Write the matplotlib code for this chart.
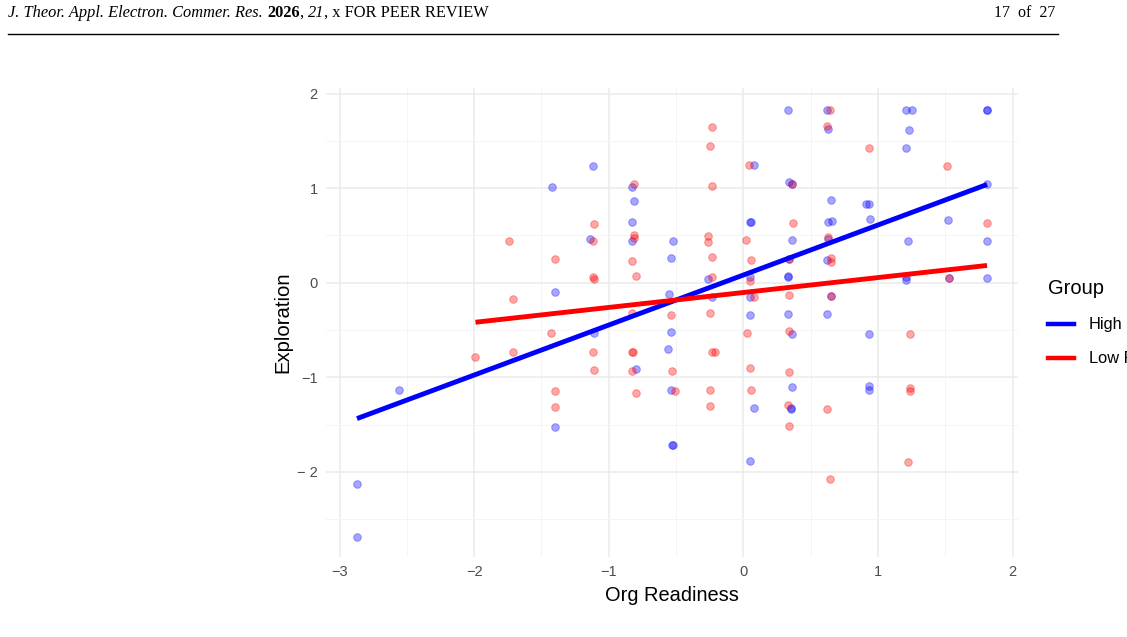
import numpy as np
import matplotlib
matplotlib.use("Agg")
import matplotlib.pyplot as plt
from matplotlib.lines import Line2D

# ---- data ----
high_x = [-2.87, -2.87, -2.56, -1.42, -1.40, -1.40, -1.12, -1.14, -1.11,
          -0.83, -0.81, -0.83, -0.83, -0.80, -0.52, -0.54, -0.55, -0.54,
          -0.56, -0.54, -0.53, -0.52, -0.26, -0.23, 0.08, 0.05, 0.06, 0.05,
          0.05, 0.05, 0.08, 0.05, 0.33, 0.62, 0.63, 1.21, 1.25, 1.23, 1.21,
          1.81, 1.81, 0.34, 0.36, 1.81, 0.65, 0.91, 0.93, 0.63, 0.66, 0.94,
          1.52, 0.36, 0.63, 1.22, 1.81, 0.34, 0.62, 0.33, 0.33, 1.21, 1.21,
          1.53, 1.81, 0.65, 0.33, 0.62, 0.36, 0.93, 0.36, 0.93, 0.93, 0.35,
          0.35]
high_y = [-2.13, -2.69, -1.13, 1.01, -0.10, -1.53, 1.23, 0.46, -0.53,
          1.01, 0.86, 0.64, 0.44, -0.91, 0.44, 0.26, -0.12, -0.52,
          -0.70, -1.13, -1.72, -1.72, 0.04, -0.15, 1.25, 0.64, 0.64, 0.06,
          -0.15, -0.34, -1.32, -1.88, 1.83, 1.83, 1.63, 1.83, 1.83, 1.62, 1.42,
          1.83, 1.83, 1.07, 1.04, 1.04, 0.87, 0.83, 0.83, 0.64, 0.65, 0.67,
          0.66, 0.45, 0.46, 0.44, 0.44, 0.25, 0.24, 0.07, 0.06, 0.06, 0.03,
          0.05, 0.05, -0.14, -0.33, -0.33, -0.54, -0.54, -1.10, -1.09, -1.13, -1.32,
          -1.33]

low_x = [-1.99, -1.74, -1.71, -1.71, -1.40, -1.43, -1.40, -1.40, -1.11,
         -1.12, -1.12, -1.11, -1.12, -1.11, -0.81, -0.81, -0.81, -0.83,
         -0.80, -0.83, -0.83, -0.82, -0.83, -0.80, -0.54, -0.53, -0.51,
         -0.23, -0.25, -0.23, -0.26, -0.26, -0.23, -0.23, -0.25, -0.23,
         -0.21, -0.25, -0.25, 0.04, 0.02, 0.06, 0.05, 0.08, 0.03, 0.05, 0.06,
         0.64, 0.62, 0.93, 1.51, 0.36, 0.37, 1.81, 0.63, 0.34, 0.65, 0.65,
         1.53, 0.34, 0.65, 0.34, 1.24, 0.34, 1.24, 1.24, 0.33, 0.62, 0.34,
         1.22, 0.64]
low_y = [-0.78, 0.44, -0.17, -0.73, 0.25, -0.53, -1.14, -1.31, 0.62,
         0.44, 0.06, 0.04, -0.73, -0.92, 1.04, 0.50, 0.47, 0.23,
         0.07, -0.32, -0.73, -0.73, -0.93, -1.17, -0.34, -0.93, -1.14,
         1.65, 1.45, 1.02, 0.49, 0.43, 0.27, 0.06, -0.32, -0.73,
         -0.73, -1.13, -1.30, 1.25, 0.45, 0.24, 0.02, -0.15, -0.53, -0.90, -1.13,
         1.83, 1.66, 1.42, 1.23, 1.04, 0.63, 0.63, 0.48, 0.25, 0.26, 0.22,
         0.05, -0.13, -0.14, -0.51, -0.54, -0.94, -1.11, -1.14, -1.29, -1.33, -1.52,
         -1.90, -2.08]

# fitted lm lines as drawn in the reference (slope, intercept)
high_fit = (0.529, 0.082)
low_fit = (0.158, -0.103)

groups = ["High", "Low F"]
group_colors = {"High": "#0000FF", "Low F": "#FF0000"}
x_ticks = [-3, -2, -1, 0, 1, 2]
x_ticklabels = ["\u22123", "\u22122", "\u22121", "0", "1", "2"]
y_ticks = [-2, -1, 0, 1, 2]
y_ticklabels = ["\u2212 2", "\u22121", "0", "1", "2"]

fig = plt.figure(figsize=(11.27, 6.37), dpi=100)
ax = fig.add_axes([0.2893, 0.1256, 0.614, 0.7363])

series = {"High": (high_x, high_y, high_fit), "Low F": (low_x, low_y, low_fit)}
for g in groups:
    x, y, _ = series[g]
    ax.scatter(x, y, s=30, color=group_colors[g], alpha=0.35,
               edgecolors=group_colors[g], linewidths=0.7, zorder=2)
for g in groups:
    x, _, (slope, icpt) = series[g]
    xs = np.array([min(x), max(x)])
    ax.plot(xs, icpt + slope * xs, color=group_colors[g], lw=3.5,
            solid_capstyle="butt", zorder=3)

ax.set_xlim(-3.1, 2.04)
ax.set_ylim(-2.9, 2.06)
ax.set_xticks(x_ticks)
ax.set_xticklabels(x_ticklabels)
ax.set_yticks(y_ticks)
ax.set_yticklabels(y_ticklabels)
ax.set_xticks(np.arange(-2.5, 2.0, 1.0), minor=True)
ax.set_yticks(np.arange(-2.5, 2.0, 1.0), minor=True)
ax.grid(which="major", color="#EBEBEB", lw=1.1)
ax.grid(which="minor", color="#F4F4F4", lw=0.7)
ax.set_axisbelow(True)
ax.tick_params(which="both", length=0, labelsize=10.5, labelcolor="#4D4D4D", pad=6)
for sp in ax.spines.values():
    sp.set_visible(False)
for lab in ax.get_xticklabels() + ax.get_yticklabels():
    lab.set_family("Liberation Sans")

ax.set_xlabel("Org Readiness", fontsize=14.4, family="Liberation Sans", labelpad=5)
ax.set_ylabel("Exploration", fontsize=14.6, family="Liberation Sans", labelpad=3)

# legend sits at the right page edge; labels run off it as in the reference
handles = [Line2D([], [], color=group_colors[g], lw=3.2) for g in groups]
leg = ax.legend(handles, groups, title="Group", loc="upper left",
                bbox_to_anchor=(1048 / 1127, 1 - 279 / 637),
                bbox_transform=fig.transFigure, frameon=False,
                prop={"family": "Liberation Sans", "size": 11.8},
                title_fontproperties={"family": "Liberation Sans", "size": 14.5},
                alignment="left", handlelength=1.6, handletextpad=0.9,
                labelspacing=1.15, borderpad=0, borderaxespad=0)
leg._legend_box.sep = 14

# page header
renderer = fig.canvas.get_renderer()
pieces = [("J. Theor. Appl. Electron. Commer. Res. ", "italic", "normal"),
          ("2026", "normal", "bold"),
          (", ", "normal", "normal"),
          ("21", "italic", "normal"),
          (", x FOR PEER REVIEW", "normal", "normal")]
xpos = 8 / 1127
for text, style, weight in pieces:
    t = fig.text(xpos, 1 - 13 / 637, text, fontsize=11.75, family="Liberation Serif",
                 style=style, weight=weight, va="center", ha="left")
    bb = t.get_window_extent(renderer)
    xpos = bb.x1 / fig.bbox.width
fig.text(1055 / 1127, 1 - 13 / 637, "17  of  27", fontsize=11.5,
         family="Liberation Serif", va="center", ha="right")
fig.add_artist(Line2D([8 / 1127, 1058 / 1127], [1 - 34 / 637, 1 - 34 / 637],
                      color="black", lw=1.0, transform=fig.transFigure))

fig.savefig("out.png", dpi=100)
